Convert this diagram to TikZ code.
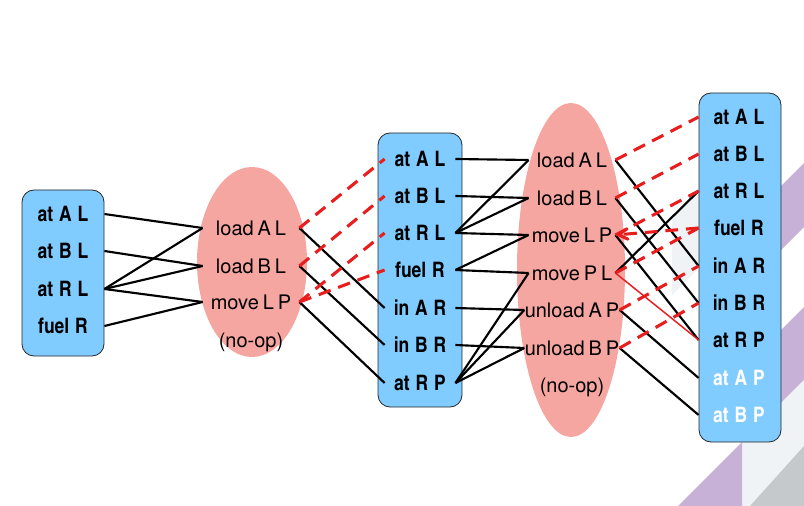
\documentclass[tikz,border=0pt]{standalone}
\usepackage{fontspec}
\setmainfont[WordSpace=0.7]{TeX Gyre Heros}
\newfontfamily\factfont[WordSpace=1.2]{TeX Gyre Heros Cn}
\usetikzlibrary{arrows}
\definecolor{box_blue}{RGB}{128,203,255}
\definecolor{box_border}{RGB}{40,40,40}
\definecolor{act_pink}{RGB}{245,166,161}
\definecolor{del_red}{RGB}{232,30,30}
\definecolor{band_purple}{RGB}{199,177,214}
\definecolor{panel_gray}{RGB}{240,243,246}
\definecolor{corner_gray}{RGB}{198,201,203}

\begin{document}
\begin{tikzpicture}[x=0.75pt,y=-0.75pt,semithick,>=angle 60]
    \tikzstyle{fact}=[font=\factfont\bfseries\fontsize{16}{18}\selectfont, inner sep=0pt, text height=11.5pt, text depth=0pt, text=black]
    \tikzstyle{goal}=[fact, text=white]
    \tikzstyle{act}=[font=\fontsize{15}{17}\selectfont, inner sep=0pt, text height=10.8pt, text depth=0pt, text=black]
    \tikzstyle{layer}=[draw=box_border, fill=box_blue, rounded corners=9pt, line width=0.6pt]
    \tikzstyle{precond}=[draw=black, line width=1.6pt]
    \tikzstyle{deleff}=[draw=del_red, line width=2.3pt, dash pattern=on 9.5pt off 6pt]
    \tikzstyle{delthin}=[draw=del_red, line width=1.1pt]
    \useasboundingbox (0,0) rectangle (804,506);

    % background corner
    \fill[band_purple] (804,163) -- (804,227) -- (740,291) -- (740,227) -- cycle;
    \fill[band_purple] (804,307) -- (804,380) -- (742,442) -- (742,369) -- cycle;
    \fill[panel_gray] (742,442) -- (804,380) -- (804,506) -- (742,506) -- cycle;
    \fill[band_purple] (742,442) -- (677,507) -- (742,507) -- cycle;
    \fill[corner_gray] (750,506) -- (804,446) -- (804,506) -- cycle;
    \fill[panel_gray] (699,190) -- (672,217) -- (672,295) -- (699,268) -- cycle;

    % layers
    \fill[act_pink] (252,262) ellipse (55 and 95);
    \fill[act_pink] (571,270) ellipse (54 and 167);
    \draw[layer] (22,190) rectangle (104,356);
    \draw[layer] (378,133) rectangle (462,407);
    \draw[layer] (699,93) rectangle (781,442);

    \node[fact, minimum width=61.5pt] (s0atAL)  at (63,214) {at A L};
    \node[fact, minimum width=61.5pt] (s0atBL)  at (63,251) {at B L};
    \node[fact, minimum width=61.5pt] (s0atRL)  at (63,289) {at R L};
    \node[fact, minimum width=61.5pt] (s0fuelR) at (63,326) {fuel R};

    \node[act, minimum width=72pt] (a1loadAL) at (251,228) {load A L};
    \node[act, minimum width=72pt] (a1loadBL) at (251,266) {load B L};
    \node[act, minimum width=72pt] (a1moveLP) at (251,302) {move L P};
    \node[act] (a1noop) at (251,340) {(no-op)};

    \node[fact, minimum width=52.5pt] (s1atAL)  at (420,159) {at A L};
    \node[fact, minimum width=52.5pt] (s1atBL)  at (420,196) {at B L};
    \node[fact, minimum width=52.5pt] (s1atRL)  at (420,233) {at R L};
    \node[fact, minimum width=52.5pt] (s1fuelR) at (420,270) {fuel R};
    \node[fact, minimum width=52.5pt] (s1inAR)  at (420,308) {in A R};
    \node[fact, minimum width=52.5pt] (s1inBR)  at (420,345) {in B R};
    \node[fact, minimum width=52.5pt] (s1atRP)  at (420,383) {at R P};

    \node[act, minimum width=64.5pt] (a2loadAL)   at (572,160) {load A L};
    \node[act, minimum width=64.5pt] (a2loadBL)   at (572,198) {load B L};
    \node[act, minimum width=64.5pt] (a2moveLP)   at (572,235) {move L P};
    \node[act, minimum width=64.5pt] (a2movePL)   at (572,273) {move P L};
    \node[act, minimum width=64.5pt] (a2unloadAP) at (572,310) {unload A P};
    \node[act, minimum width=64.5pt] (a2unloadBP) at (572,348) {unload B P};
    \node[act] (a2noop) at (572,385) {(no-op)};

    \node[fact, minimum width=60pt] (s2atAL)  at (739,117) {at A L};
    \node[fact, minimum width=60pt] (s2atBL)  at (739,154) {at B L};
    \node[fact, minimum width=60pt] (s2atRL)  at (739,191) {at R L};
    \node[fact, minimum width=60pt] (s2fuelR) at (739,228) {fuel R};
    \node[fact, minimum width=60pt] (s2inAR)  at (739,266) {in A R};
    \node[fact, minimum width=60pt] (s2inBR)  at (739,303) {in B R};
    \node[fact, minimum width=60pt] (s2atRP)  at (739,340) {at R P};
    \node[goal, minimum width=60pt] (s2atAP)  at (739,378) {at A P};
    \node[goal, minimum width=60pt] (s2atBP)  at (739,415) {at B P};

    \path
     (s0atAL.east) edge[precond] (a1loadAL.west)
     (s0atBL.east) edge[precond] (a1loadBL.west)
     (s0atRL.east) edge[precond] (a1loadAL.west)
     (s0atRL.east) edge[precond] (a1loadBL.west)
     (s0atRL.east) edge[precond] (a1moveLP.west)
     (s0fuelR.east) edge[precond] (a1moveLP.west)
     (a1loadAL.east) edge[precond] (s1inAR.west)
     (a1loadBL.east) edge[precond] (s1inBR.west)
     (a1moveLP.east) edge[precond] (s1atRP.west)
     (a1loadAL.east) edge[deleff] (s1atAL.west)
     (a1loadBL.east) edge[deleff] (s1atBL.west)
     (a1moveLP.east) edge[deleff] (s1atRL.west)
     (a1moveLP.east) edge[deleff] (s1fuelR.west)
     ;
    \path
     (s1atAL.east) edge[precond] (a2loadAL.west)
     (s1atBL.east) edge[precond] (a2loadBL.west)
     (s1atRL.east) edge[precond] (a2loadAL.west)
     (s1atRL.east) edge[precond] (a2loadBL.west)
     (s1atRL.east) edge[precond] (a2moveLP.west)
     (s1fuelR.east) edge[precond] (a2moveLP.west)
     (s1fuelR.east) edge[precond] (a2movePL.west)
     (s1inAR.east) edge[precond] (a2unloadAP.west)
     (s1inBR.east) edge[precond] (a2unloadBP.west)
     (s1atRP.east) edge[precond] (a2movePL.west)
     (s1atRP.east) edge[precond] (a2unloadAP.west)
     (s1atRP.east) edge[precond] (a2unloadBP.west)
     ;
    \path
     (a2loadAL.east) edge[precond] (s2inAR.west)
     (a2loadBL.east) edge[precond] (s2inBR.west)
     (a2moveLP.east) edge[precond] (s2atRP.west)
     (a2movePL.east) edge[precond] (s2atRL.west)
     (a2unloadAP.east) edge[precond] (s2atAP.west)
     (a2unloadBP.east) edge[precond] (s2atBP.west)
     (a2loadAL.east) edge[deleff] (s2atAL.west)
     (a2loadBL.east) edge[deleff] (s2atBL.west)
     (a2moveLP.east) edge[deleff] (s2atRL.west)
     (s2fuelR.west) edge[deleff,->] (a2moveLP.east)
     (a2movePL.east) edge[deleff] (s2fuelR.west)
     (a2movePL.east) edge[delthin] (s2atRP.west)
     (a2unloadAP.east) edge[deleff] (s2inAR.west)
     (a2unloadBP.east) edge[deleff] (s2inBR.west)
     ;
\end{tikzpicture}
\end{document}
